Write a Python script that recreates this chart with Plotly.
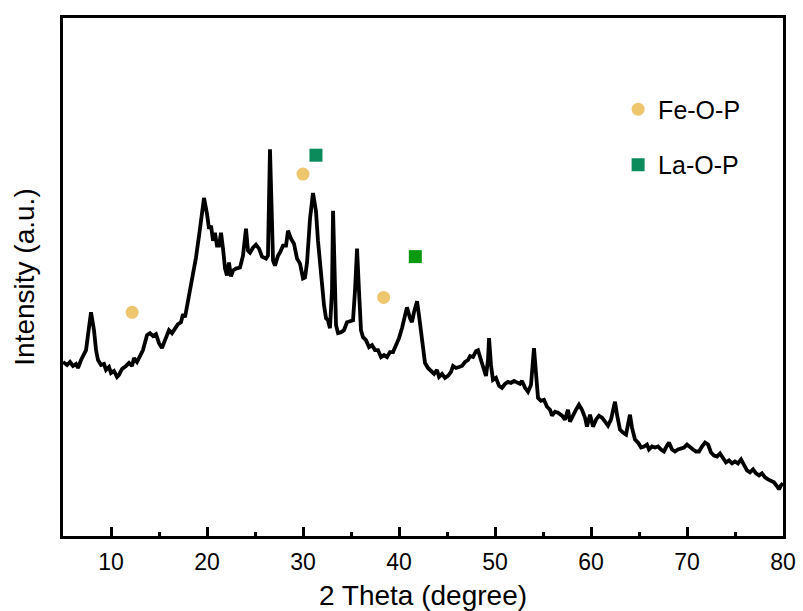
import plotly.graph_objects as go

# XRD pattern: diffraction angle (2θ, degree) and intensity (a.u.)
two_theta = [
    5.00, 5.42, 5.73, 6.04, 6.35, 6.56, 6.88, 7.19, 7.40, 7.60, 7.92, 8.23, 8.44, 8.65, 8.96,
    9.27, 9.48, 9.79, 10.00, 10.31, 10.63, 10.83, 11.15, 11.56, 11.88, 12.19, 12.40, 12.71,
    13.02, 13.33, 13.75, 14.06, 14.38, 14.69, 15.00, 15.31, 15.63, 16.04, 16.35, 16.67, 16.98,
    17.29, 17.50, 17.71, 17.92, 18.23, 18.54, 18.85, 19.17, 19.48, 19.69, 20.00, 20.21, 20.42,
    20.63, 20.83, 21.04, 21.25, 21.46, 21.67, 21.88, 22.08, 22.29, 22.50, 22.71, 23.02, 23.44,
    23.75, 24.06, 24.27, 24.48, 24.79, 25.10, 25.42, 25.73, 26.15, 26.35, 26.56, 26.88, 27.08,
    27.40, 27.60, 27.92, 28.23, 28.44, 28.75, 29.06, 29.38, 29.69, 30.00, 30.21, 30.42, 30.73,
    31.04, 31.35, 31.56, 31.88, 32.19, 32.40, 32.60, 32.81, 33.02, 33.13, 33.33, 33.44, 33.65,
    33.96, 34.27, 34.58, 34.90, 35.21, 35.42, 35.63, 35.83, 36.04, 36.25, 36.56, 36.88, 37.19,
    37.50, 37.81, 38.13, 38.44, 38.75, 39.06, 39.38, 39.69, 40.00, 40.31, 40.63, 40.83, 41.15,
    41.35, 41.56, 41.88, 42.08, 42.29, 42.50, 42.71, 43.02, 43.33, 43.65, 43.96, 44.17, 44.48,
    44.79, 45.10, 45.42, 45.63, 45.94, 46.25, 46.56, 46.88, 47.19, 47.40, 47.71, 48.02, 48.23,
    48.54, 48.85, 49.06, 49.27, 49.38, 49.58, 49.79, 50.10, 50.42, 50.73, 51.04, 51.35, 51.67,
    51.98, 52.29, 52.60, 52.81, 53.13, 53.44, 53.75, 54.06, 54.27, 54.48, 54.79, 55.10, 55.42,
    55.73, 55.94, 56.25, 56.56, 56.98, 57.29, 57.60, 57.81, 58.13, 58.44, 58.75, 59.06, 59.38,
    59.58, 59.90, 60.21, 60.52, 60.83, 61.15, 61.46, 61.77, 62.08, 62.40, 62.50, 62.71, 63.02,
    63.33, 63.65, 63.85, 64.06, 64.27, 64.58, 64.90, 65.21, 65.52, 65.83, 66.04, 66.35, 66.67,
    66.98, 67.29, 67.60, 67.92, 68.13, 68.44, 68.75, 69.06, 69.38, 69.69, 70.00, 70.31, 70.63,
    70.94, 71.25, 71.56, 71.88, 72.19, 72.50, 72.81, 73.13, 73.44, 73.75, 74.06, 74.38, 74.69,
    75.00, 75.31, 75.63, 75.94, 76.25, 76.56, 76.88, 77.19, 77.50, 77.81, 78.13, 78.44, 78.75,
    79.06, 79.38, 79.58, 79.79, 80.00,
]
intensity = [
    175, 172, 175, 171, 173, 169, 177, 182, 187, 202, 225, 207, 187, 177, 172,
    173, 167, 170, 164, 166, 160, 162, 168, 171, 174, 171, 179, 175,
    181, 187, 202, 204, 201, 203, 194, 189, 197, 207, 204, 209, 213,
    215, 223, 220, 231, 244, 260, 280, 302, 327, 340, 324, 309, 312,
    297, 305, 292, 292, 305, 289, 269, 262, 275, 261, 267, 269, 270,
    282, 309, 287, 285, 290, 293, 289, 281, 279, 282, 389, 277, 272,
    282, 285, 292, 292, 307, 299, 294, 279, 274, 259, 260, 275, 319,
    345, 327, 297, 262, 232, 219, 217, 209, 247, 327, 257, 212, 204,
    205, 207, 215, 216, 217, 247, 289, 247, 207, 200, 197, 190, 192,
    187, 187, 180, 182, 180, 185, 185, 192, 199, 209, 225, 230, 219,
    215, 225, 236, 222, 207, 192, 174, 169, 166, 163, 167, 160, 163,
    159, 161, 165, 171, 169, 170, 171, 175, 177, 181, 180, 186, 187,
    177, 167, 161, 177, 199, 172, 157, 159, 151, 149, 153, 155, 154,
    156, 155, 153, 156, 149, 145, 152, 189, 157, 139, 136, 137, 130,
    127, 121, 125, 124, 121, 117, 127, 115, 122, 127, 132, 127, 119,
    110, 122, 110, 117, 121, 119, 115, 111, 117, 132, 135, 122, 107,
    104, 102, 112, 122, 109, 97, 94, 89, 90, 92, 87, 90, 89,
    90, 87, 85, 91, 94, 87, 85, 87, 88, 89, 92, 89, 87,
    85, 85, 90, 94, 92, 84, 81, 80, 83, 79, 74, 76, 73,
    75, 73, 77, 72, 66, 64, 67, 63, 61, 63, 59, 57, 56,
    54, 50, 47, 51, 53,
]

# Phase markers placed above the assigned reflections
fe_theta = [12.2, 30.0, 38.4]
fe_level = [225, 364, 240]
la_theta = [31.35, 41.7]
la_level = [383, 281]
la_colors = ["#0B8A5C", "#0A990F"]

x_ticks = [10, 20, 30, 40, 50, 60, 70, 80]

FONT = "Liberation Sans, Arial, sans-serif"

fig = go.Figure()

fig.add_trace(go.Scatter(
    x=two_theta, y=intensity, mode="lines",
    line=dict(color="black", width=3.8, shape="linear"),
    showlegend=False, hoverinfo="skip",
))

fig.add_trace(go.Scatter(
    x=fe_theta, y=fe_level, mode="markers", name="Fe-O-P",
    marker=dict(symbol="circle", size=13, color="#EDC66E"),
    legendgroup="fe",
))

fig.add_trace(go.Scatter(
    x=la_theta, y=la_level, mode="markers", name="La-O-P",
    marker=dict(symbol="square", size=13, color=la_colors),
    legendgroup="la",
))

fig.update_layout(
    width=803, height=611,
    margin=dict(l=63, r=20, t=18, b=75),
    paper_bgcolor="white", plot_bgcolor="white",
    font=dict(family=FONT, color="black"),
    legend=dict(
        x=0.771, y=0.868, xanchor="left", yanchor="top",
        bgcolor="rgba(0,0,0,0)", font=dict(size=25, family=FONT),
        tracegroupgap=20, itemsizing="trace",
    ),
)

fig.update_xaxes(
    automargin=False,
    range=[5, 80], tickvals=x_ticks, ticktext=[str(v) for v in x_ticks],
    ticks="inside", ticklen=9, tickwidth=3, tickcolor="black",
    minor=dict(dtick=5, tick0=5, ticks="inside", ticklen=4, tickwidth=3, tickcolor="black"),
    showline=True, linewidth=3, linecolor="black", mirror=True,
    showgrid=False, zeroline=False,
    tickfont=dict(size=23, family=FONT), ticklabelstandoff=3,
    title=dict(text="2 Theta (degree)", font=dict(size=28, family=FONT), standoff=14),
)

fig.update_yaxes(
    automargin=False,
    range=[0, 521], showticklabels=False, ticks="",
    showline=True, linewidth=3, linecolor="black", mirror=True,
    showgrid=False, zeroline=False,
    title=dict(text="Intensity (a.u.)", font=dict(size=28, family=FONT), standoff=18),
)

fig.write_html("out.html")
